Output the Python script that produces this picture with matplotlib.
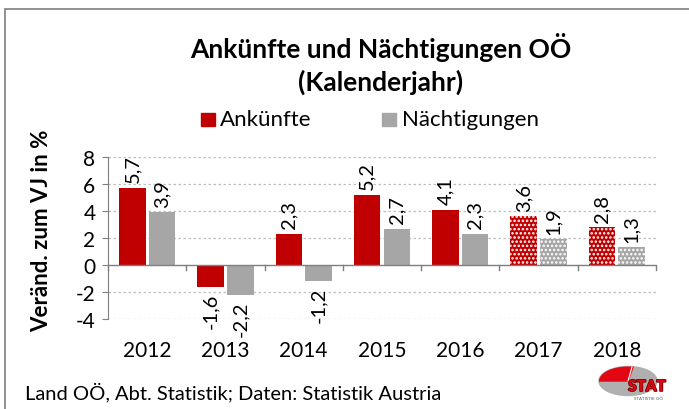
import matplotlib.pyplot as plt
import numpy as np
import matplotlib.patheffects as pe
from matplotlib.patches import Rectangle, Ellipse, Wedge

plt.rcParams['font.family'] = ['Lato', 'DejaVu Sans']
plt.rcParams['hatch.linewidth'] = 1.2

years = ['2012', '2013', '2014', '2015', '2016', '2017', '2018']
ankuenfte = [5.7, -1.6, 2.3, 5.2, 4.1, 3.6, 2.8]
naechtigungen = [3.9, -2.2, -1.2, 2.7, 2.3, 1.9, 1.3]
dotted = [False, False, False, False, False, True, True]  # Prognose-Jahre

red = '#C00000'
grey = '#A6A6A6'

fig = plt.figure(figsize=(6.89, 4.10), dpi=100)
W, H = 689, 410
ax = fig.add_axes([108 / W, 1 - 320 / H, (656 - 108) / W, (320 - 158) / H])

# Rahmen
fig.patches.append(Rectangle((5 / W, -0.1), 1.2, 1 - 10 / H + 0.1, transform=fig.transFigure,
                             fill=False, edgecolor='#7f7f7f', linewidth=1.2))

x = np.arange(len(years))
w = 0.34
off = 0.19
for i in range(len(years)):
    h = '....' if dotted[i] else None
    ec = 'white' if dotted[i] else 'none'
    ax.bar(x[i] - off, ankuenfte[i], w, color=red, edgecolor=ec, linewidth=0, hatch=h, zorder=3)
    ax.bar(x[i] + off, naechtigungen[i], w, color=grey, edgecolor=ec, linewidth=0, hatch=h, zorder=3)

    for xv, v in [(x[i] - off, ankuenfte[i]), (x[i] + off, naechtigungen[i])]:
        lab = ('%.1f' % v).replace('.', ',')
        if v >= 0:
            ax.annotate(lab, (xv, v), xytext=(0, 4), textcoords='offset points',
                        rotation=90, ha='center', va='bottom', fontsize=14.5)
        else:
            ax.annotate(lab, (xv, v), xytext=(0, -4), textcoords='offset points',
                        rotation=90, ha='center', va='top', fontsize=14.5)

ax.set_xlim(-0.5, len(years) - 0.5)
ax.set_ylim(-4, 8)
ax.set_yticks([-4, -2, 0, 2, 4, 6, 8])
ax.set_yticklabels(['-4', '-2', '0', '2', '4', '6', '8'], fontsize=15)
ax.tick_params(axis='y', length=4, color='#7f7f7f', pad=5)

for gy in [-4, -2, 2, 4, 6, 8]:
    ax.axhline(gy, color='#BFBFBF', linestyle=(0, (2, 2)), linewidth=0.9, zorder=1)
ax.axhline(0, color='#7f7f7f', linewidth=1, zorder=4)
# Teilstriche an der Nulllinie
for b in np.arange(-0.5, len(years), 1.0):
    ax.plot([b, b], [0, -0.4], color='#7f7f7f', linewidth=1, zorder=4, clip_on=False)

ax.set_xticks(x)
ax.set_xticklabels([])
for i, yr in enumerate(years):
    ax.text(x[i], -6.3, yr, ha='center', va='center', fontsize=15)
ax.tick_params(axis='x', length=0)

for s in ['top', 'right', 'bottom']:
    ax.spines[s].set_visible(False)
ax.spines['left'].set_color('#7f7f7f')

fig.text(42 / W, 1 - 231 / H, 'Veränd. zum VJ in %', rotation=90, ha='center', va='center',
         fontsize=16, fontweight='bold')

fig.text(381 / W, 1 - 48 / H, 'Ankünfte und Nächtigungen OÖ', ha='center', va='center',
         fontsize=19, fontweight='bold')
fig.text(381 / W, 1 - 82 / H, '(Kalenderjahr)', ha='center', va='center',
         fontsize=19, fontweight='bold')

# Legende
fig.patches.append(Rectangle((201 / W, 1 - 127 / H), 14 / W, 13 / H, transform=fig.transFigure,
                             color=red))
fig.text(220 / W, 1 - 120 / H, 'Ankünfte', ha='left', va='center', fontsize=16)
fig.patches.append(Rectangle((382 / W, 1 - 127 / H), 14 / W, 13 / H, transform=fig.transFigure,
                             color=grey))
fig.text(402 / W, 1 - 120 / H, 'Nächtigungen', ha='left', va='center', fontsize=16)

fig.text(25 / W, 1 - 392 / H, 'Land OÖ, Abt. Statistik; Daten: Statistik Austria',
         ha='left', va='center', fontsize=14.5)

# Logo (Pixelkoordinaten)
lax = fig.add_axes([594 / W, 1 - 406 / H, 86 / W, 44 / H])
lax.set_xlim(594, 680)
lax.set_ylim(406, 362)
lax.axis('off')
ell = Ellipse((628, 382), 58, 29, color='#B0B0B0')
lax.add_patch(ell)
wd = Wedge((628, 382), 40, 180, 290, color='#E30613')
lax.add_patch(wd)
wd.set_clip_path(ell)
lax.plot([628, 632], [382, 368], color='white', lw=0.8)
lax.text(647, 388, 'STAT', color='#E30613', fontsize=11, fontweight='black',
         ha='center', va='center',
         path_effects=[pe.withStroke(linewidth=1.2, foreground='#6b0000')])
lax.text(648, 399, 'STATISTIK OÖ', color='#555555', fontsize=3.2, ha='center', va='center')

fig.savefig('out.png', dpi=100)
